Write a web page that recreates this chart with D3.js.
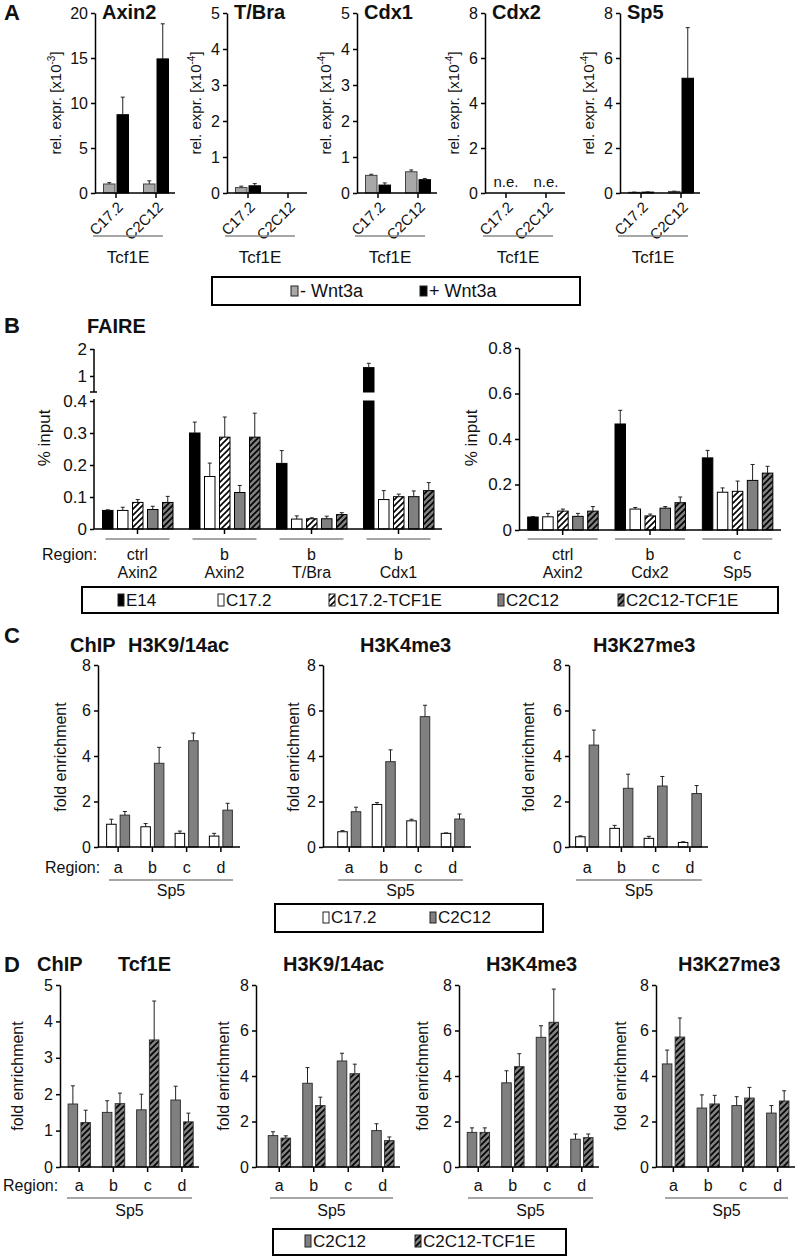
<!DOCTYPE html>
<html>
<head>
<meta charset="utf-8">
<script src="https://cdn.jsdelivr.net/npm/d3@7"></script>
<style>
  body { margin: 0; background: #fff; }
  svg text { font-family: Arial, "Liberation Sans", sans-serif; fill: #111; }
</style>
</head>
<body>
<div id="chart"></div>
<script>
// ---------- data: panel A (relative expression) ----------
const exprGenes = ['Axin2', 'T/Bra', 'Cdx1', 'Cdx2', 'Sp5'];
const exprCells = ['C17.2', 'C2C12'];
const exprExponent = ['-3', '-4', '-4', '-4', '-4'];
const exprTicks = [[0, 5, 10, 15, 20], [0, 1, 2, 3, 4, 5], [0, 1, 2, 3, 4, 5], [0, 2, 4, 6, 8], [0, 2, 4, 6, 8]];
const exprMinusWnt = [[1.0, 1.0], [0.15, null], [0.49, 0.59], [null, null], [0.03, 0.07]];
const exprMinusWntErr = [[0.15, 0.35], [0.04, 0], [0.03, 0.05], [0, 0], [0.01, 0.01]];
const exprPlusWnt = [[8.7, 14.9], [0.2, null], [0.22, 0.37], [null, null], [0.04, 5.1]];
const exprPlusWntErr = [[1.95, 3.9], [0.06, 0], [0.06, 0.03], [0, 0], [0.01, 2.25]];
const exprNotExpressed = [false, false, false, true, false];

// ---------- data: panel B (FAIRE, % input) ----------
const faireSeries = ['E14', 'C17.2', 'C17.2-TCF1E', 'C2C12', 'C2C12-TCF1E'];
const faireLeftRegion = ['ctrl', 'b', 'b', 'b'];
const faireLeftGene = ['Axin2', 'Axin2', 'T/Bra', 'Cdx1'];
// rows = series, columns = regions
const faireLeftVals = [
  [0.058, 0.30, 0.205, 1.31],
  [0.058, 0.164, 0.031, 0.092],
  [0.083, 0.287, 0.032, 0.101],
  [0.061, 0.114, 0.032, 0.101],
  [0.083, 0.287, 0.045, 0.12]
];
const faireLeftErr = [
  [0.002, 0.034, 0.04, 0.16],
  [0.01, 0.042, 0.01, 0.028],
  [0.009, 0.063, 0.003, 0.008],
  [0.01, 0.022, 0.008, 0.018],
  [0.019, 0.075, 0.006, 0.025]
];
const faireRightRegion = ['ctrl', 'b', 'c'];
const faireRightGene = ['Axin2', 'Cdx2', 'Sp5'];
const faireRightVals = [
  [0.057, 0.466, 0.317],
  [0.058, 0.092, 0.166],
  [0.083, 0.062, 0.17],
  [0.06, 0.096, 0.218],
  [0.083, 0.12, 0.25]
];
const faireRightErr = [
  [0.002, 0.06, 0.033],
  [0.015, 0.007, 0.019],
  [0.009, 0.008, 0.045],
  [0.013, 0.007, 0.07],
  [0.02, 0.025, 0.03]
];
const faireLeftTicks = [0, 0.1, 0.2, 0.3, 0.4];
const faireLeftUpperTicks = [1, 2];
const faireRightTicks = [0, 0.2, 0.4, 0.6, 0.8];

// ---------- data: panel C (ChIP, C17.2 vs C2C12) ----------
const chipRegions = ['a', 'b', 'c', 'd'];
const chipCMarks = ['H3K9/14ac', 'H3K4me3', 'H3K27me3'];
const chipCC172 = [[1.0, 0.89, 0.6, 0.48], [0.67, 1.87, 1.15, 0.6], [0.45, 0.82, 0.38, 0.2]];
const chipCC172Err = [[0.22, 0.14, 0.1, 0.12], [0.05, 0.08, 0.07, 0.02], [0.04, 0.13, 0.09, 0.03]];
const chipCC2C12 = [[1.4, 3.68, 4.67, 1.62], [1.55, 3.75, 5.73, 1.23], [4.48, 2.58, 2.68, 2.35]];
const chipCC2C12Err = [[0.16, 0.7, 0.34, 0.3], [0.2, 0.52, 0.5, 0.22], [0.66, 0.62, 0.42, 0.35]];
const chipCTicks = [0, 2, 4, 6, 8];

// ---------- data: panel D (ChIP, C2C12 vs C2C12-TCF1E) ----------
const chipDMarks = ['Tcf1E', 'H3K9/14ac', 'H3K4me3', 'H3K27me3'];
const chipDTicks = [[0, 1, 2, 3, 4, 5], [0, 2, 4, 6, 8], [0, 2, 4, 6, 8], [0, 2, 4, 6, 8]];
const chipDC2C12 = [[1.73, 1.5, 1.57, 1.84], [1.38, 3.68, 4.66, 1.6], [1.52, 3.7, 5.7, 1.22], [4.53, 2.59, 2.7, 2.37]];
const chipDC2C12Err = [[0.5, 0.32, 0.43, 0.38], [0.17, 0.69, 0.34, 0.3], [0.2, 0.53, 0.51, 0.23], [0.61, 0.58, 0.39, 0.33]];
const chipDTcf = [[1.22, 1.74, 3.49, 1.24], [1.27, 2.7, 4.1, 1.16], [1.52, 4.41, 6.36, 1.29], [5.71, 2.77, 3.03, 2.9]];
const chipDTcfErr = [[0.34, 0.29, 1.07, 0.24], [0.1, 0.37, 0.42, 0.16], [0.2, 0.57, 1.46, 0.16], [0.84, 0.38, 0.47, 0.45]];

// ---------- setup ----------
const W = 800, H = 1259;
const svg = d3.select('#chart').append('svg').attr('width', W).attr('height', H);
const defs = svg.append('defs');

function hatch(id, bg) {
  const p = defs.append('pattern')
    .attr('id', id)
    .attr('patternUnits', 'userSpaceOnUse')
    .attr('width', 6)
    .attr('height', 6);
  p.append('rect').attr('width', 6).attr('height', 6).attr('fill', bg);
  p.append('path')
    .attr('d', 'M-1,1 l2,-2 M0,6 l6,-6 M5,7 l2,-2')
    .attr('stroke', '#000')
    .attr('stroke-width', 1.6);
}
hatch('hatchWhite', '#fff');
hatch('hatchGray', '#808080');

const GRAY = '#808080';
const LIGHT = '#a8a8a8';
const faireFills = ['#000', '#fff', 'url(#hatchWhite)', GRAY, 'url(#hatchGray)'];
const fmt = d3.format('~g');

function text(x, y, str, size, opts = {}) {
  return svg.append('text')
    .attr('x', x)
    .attr('y', y)
    .attr('font-size', size)
    .attr('font-weight', opts.bold ? 'bold' : null)
    .attr('text-anchor', opts.anchor || 'start')
    .text(str);
}

function hline(x1, x2, y, color = '#000', w = 1.5) {
  svg.append('line')
    .attr('x1', x1).attr('x2', x2).attr('y1', y).attr('y2', y)
    .attr('stroke', color).attr('stroke-width', w);
}

function vlabel(x, y, str, size) {
  return svg.append('text')
    .attr('transform', `translate(${x},${y}) rotate(-90)`)
    .attr('text-anchor', 'middle')
    .attr('font-size', size)
    .text(str);
}

function styleAxis(sel, size = 15) {
  sel.attr('font-size', null).attr('font-family', null);
  sel.select('.domain').attr('stroke', '#000').attr('stroke-width', 1.5);
  sel.selectAll('.tick line').attr('stroke', '#000').attr('stroke-width', 1.5);
  sel.selectAll('.tick text').attr('font-size', size).attr('fill', '#111');
}

// generic grouped bar chart with upward error bars
function drawBarChart(cfg) {
  const g = svg.append('g');
  const x = d3.scaleBand().domain(cfg.cats).range(cfg.band);
  const y = d3.scaleLinear().domain([0, d3.max(cfg.ticks)]).range([cfg.yBottom, cfg.yTop]);

  cfg.series.forEach(s => {
    const rows = cfg.cats.map((c, i) => ({ c, v: s.values[i], e: s.errs[i] }))
      .filter(d => d.v != null);
    const cx = d => x(d.c) + x.bandwidth() / 2 + s.offset;

    g.selectAll(null).data(rows).enter().append('rect')
      .attr('x', cx)
      .attr('y', d => y(d.v))
      .attr('width', s.width)
      .attr('height', d => y(0) - y(d.v))
      .attr('fill', s.fill)
      .attr('stroke', s.stroke || '#000')
      .attr('stroke-width', 1);

    const err = rows.filter(d => d.e > 0);
    g.selectAll(null).data(err).enter().append('path')
      .attr('d', d => {
        const mx = cx(d) + s.width / 2;
        const top = y(d.v + d.e);
        return `M${mx},${y(d.v)}V${top}M${mx - 2},${top}H${mx + 2}`;
      })
      .attr('fill', 'none')
      .attr('stroke', '#222')
      .attr('stroke-width', 1);
  });

  // y axis
  g.append('g')
    .attr('transform', `translate(${cfg.x0},0)`)
    .call(d3.axisLeft(y).tickValues(cfg.ticks).tickSize(4).tickSizeOuter(0).tickPadding(3).tickFormat(fmt))
    .call(s => styleAxis(s, cfg.tickSize || 15));

  // x axis: baseline + group ticks
  g.append('line')
    .attr('x1', cfg.x0).attr('x2', cfg.xEnd)
    .attr('y1', y(0)).attr('y2', y(0))
    .attr('stroke', '#000').attr('stroke-width', 1.5);
  g.append('g')
    .attr('transform', `translate(0,${y(0)})`)
    .call(d3.axisBottom(x).tickSize(5).tickSizeOuter(0).tickFormat(''))
    .call(s => { s.select('.domain').remove(); styleAxis(s); });

  return { x, y };
}

function legendBox(x1, x2, y1, y2, items, size) {
  svg.append('rect')
    .attr('x', x1).attr('y', y1)
    .attr('width', x2 - x1).attr('height', y2 - y1)
    .attr('fill', '#fff').attr('stroke', '#000').attr('stroke-width', 2);
  items.forEach(it => {
    svg.append('rect')
      .attr('x', it.x).attr('y', it.sy)
      .attr('width', it.sw).attr('height', it.sh)
      .attr('fill', it.fill).attr('stroke', '#222').attr('stroke-width', 1);
    text(it.x + it.sw + 2, it.ty, it.label, size);
  });
}

// ---------- panel A ----------
text(4, 20, 'A', 22, { bold: true });
const aX0 = [95, 227, 357, 485, 620];
exprGenes.forEach((gene, i) => {
  const x0 = aX0[i];
  const { x } = drawBarChart({
    x0, xEnd: x0 + 80, band: [x0 + 1, x0 + 81],
    yTop: 13, yBottom: 193, tickSize: 16,
    ticks: exprTicks[i], cats: exprCells,
    series: [
      { values: exprMinusWnt[i], errs: exprMinusWntErr[i], fill: LIGHT, stroke: '#444', offset: -12.5, width: 11.5 },
      { values: exprPlusWnt[i], errs: exprPlusWntErr[i], fill: '#000', offset: 1, width: 11.5 }
    ]
  });
  text(x0 + 7, 19, gene, 20, { bold: true });

  const digits = String(d3.max(exprTicks[i])).length;
  const lab = svg.append('text')
    .attr('transform', `translate(${x0 - 18 - 8 * digits},103) rotate(-90)`)
    .attr('text-anchor', 'middle')
    .attr('font-size', 15);
  lab.append('tspan').text('rel. expr. [x10');
  lab.append('tspan').attr('font-size', 10).attr('dy', -6).text(exprExponent[i]);
  lab.append('tspan').attr('dy', 6).text(']');

  exprCells.forEach(c => {
    const cx = x(c) + x.bandwidth() / 2;
    svg.append('text')
      .attr('transform', `translate(${cx + 8},${208}) rotate(-45)`)
      .attr('text-anchor', 'end')
      .attr('font-size', 15)
      .text(c);
    if (exprNotExpressed[i]) text(cx, 187, 'n.e.', 15, { anchor: 'middle' });
  });
  hline(x0 - 2, x0 + 68, 236, '#888', 1.5);
  text(x0 + 33, 263, 'Tcf1E', 17, { anchor: 'middle' });
});
legendBox(212, 580, 277, 305, [
  { x: 291, sy: 286, sw: 7, sh: 10, ty: 297, fill: LIGHT, label: '- Wnt3a' },
  { x: 420, sy: 286, sw: 7, sh: 10, ty: 297, fill: '#000', label: '+ Wnt3a' }
], 18);

// ---------- panel B ----------
text(4, 333, 'B', 22, { bold: true });
text(87, 333, 'FAIRE', 20, { bold: true });

const faireOffsets = [-35, -20, -5, 10, 25];
const bw = 10.5;

// left chart with broken y axis
(function () {
  const x0 = 94, xEnd = 442;
  const cats = faireLeftGene.map((g, i) => i);
  const x = d3.scaleBand().domain(cats).range([94, 442]);
  const yLow = d3.scaleLinear().domain([0, 0.4]).range([529, 401]);
  const yUp = d3.scaleLinear().domain([1, 2]).range([376, 349]);
  const breakY = 392;
  const g = svg.append('g');

  faireSeries.forEach((name, si) => {
    cats.forEach(ci => {
      const v = faireLeftVals[si][ci], e = faireLeftErr[si][ci];
      const bx = x(ci) + x.bandwidth() / 2 + faireOffsets[si] + 5 - bw / 2 + 0.25;
      const style = r => r.attr('fill', faireFills[si]).attr('stroke', '#000').attr('stroke-width', 1);
      let top;
      if (v <= 0.4) {
        g.append('rect').attr('x', bx).attr('y', yLow(v)).attr('width', bw)
          .attr('height', yLow(0) - yLow(v)).call(style);
        top = yLow(v + e);
      } else {
        g.append('rect').attr('x', bx).attr('y', yLow(0.4)).attr('width', bw)
          .attr('height', yLow(0) - yLow(0.4)).call(style);
        g.append('rect').attr('x', bx).attr('y', yUp(v)).attr('width', bw)
          .attr('height', breakY - yUp(v)).call(style);
        top = yUp(v + e);
      }
      const mx = bx + bw / 2;
      const vy = v <= 0.4 ? yLow(v) : yUp(v);
      g.append('path')
        .attr('d', `M${mx},${vy}V${top}M${mx - 2},${top}H${mx + 2}`)
        .attr('stroke', '#222').attr('fill', 'none').attr('stroke-width', 1);
    });
  });

  g.append('g').attr('transform', `translate(${x0},0)`)
    .call(d3.axisLeft(yLow).tickValues(faireLeftTicks).tickSize(4).tickSizeOuter(0).tickPadding(3).tickFormat(fmt))
    .call(s => { s.select('.domain').remove(); styleAxis(s, 17); });
  g.append('g').attr('transform', `translate(${x0},0)`)
    .call(d3.axisLeft(yUp).tickValues(faireLeftUpperTicks).tickSize(4).tickSizeOuter(0).tickPadding(3).tickFormat(fmt))
    .call(s => { s.select('.domain').remove(); styleAxis(s, 17); });
  // broken axis segments
  g.append('path')
    .attr('d', `M${x0},${yUp(2)}V${breakY}M${x0 - 4},${breakY}H${x0 + 3}M${x0},${breakY + 7}V${yLow(0)}`)
    .attr('stroke', '#000').attr('stroke-width', 1.5).attr('fill', 'none');
  g.append('line').attr('x1', x0).attr('x2', xEnd).attr('y1', yLow(0)).attr('y2', yLow(0))
    .attr('stroke', '#000').attr('stroke-width', 1.5);
  g.append('g').attr('transform', `translate(0,${yLow(0)})`)
    .call(d3.axisBottom(x).tickSize(5).tickSizeOuter(0).tickFormat(''))
    .call(s => { s.select('.domain').remove(); styleAxis(s); });

  vlabel(x0 - 44, 438, '% input', 17);
  cats.forEach(ci => {
    const cx = x(ci) + x.bandwidth() / 2;
    hline(cx - 32, cx + 32, 539, '#888', 1.5);
    text(cx, 560, faireLeftRegion[ci], 16, { anchor: 'middle' });
    text(cx, 578, faireLeftGene[ci], 16, { anchor: 'middle' });
  });
  text(42, 560, 'Region:', 16);
})();

// right chart
(function () {
  const x0 = 519;
  const cats = faireRightGene.map((g, i) => i);
  const { x } = drawBarChart({
    x0, xEnd: 781, band: [519, 781],
    yTop: 348, yBottom: 530, tickSize: 17,
    ticks: faireRightTicks, cats,
    series: faireSeries.map((name, si) => ({
      values: faireRightVals[si], errs: faireRightErr[si],
      fill: faireFills[si], offset: faireOffsets[si] + 5 - bw / 2 + 0.25, width: bw
    }))
  });
  vlabel(x0 - 42, 438, '% input', 17);
  cats.forEach(ci => {
    const cx = x(ci) + x.bandwidth() / 2;
    hline(cx - 35, cx + 35, 539, '#888', 1.5);
    text(cx, 560, faireRightRegion[ci], 16, { anchor: 'middle' });
    text(cx, 578, faireRightGene[ci], 16, { anchor: 'middle' });
  });
})();

legendBox(82, 778, 587, 613, faireSeries.map((name, si) => ({
  x: [118, 218, 329, 498, 618][si], sy: 594, sw: 6, sh: 12, ty: 606,
  fill: faireFills[si], label: name
})), 17);

// ---------- panel C ----------
text(4, 643, 'C', 22, { bold: true });
text(70, 652, 'ChIP', 20, { bold: true });
const cLayout = [
  { x0: 98, xEnd: 240, band: [101, 238], labelX: 66, titleX: 128, line: [109, 233] },
  { x0: 323, xEnd: 471, band: [332, 470], labelX: 299, titleX: 360, line: [338, 463] },
  { x0: 569, xEnd: 708, band: [570, 707], labelX: 534, titleX: 593, line: [576, 702] }
];
chipCMarks.forEach((mark, i) => {
  const L = cLayout[i];
  const { x } = drawBarChart({
    x0: L.x0, xEnd: L.xEnd, band: L.band,
    yTop: 665, yBottom: 847,
    ticks: chipCTicks, cats: chipRegions, tickSize: 16,
    series: [
      { values: chipCC172[i], errs: chipCC172Err[i], fill: '#fff', offset: -11.5, width: 9.5 },
      { values: chipCC2C12[i], errs: chipCC2C12Err[i], fill: GRAY, stroke: '#333', offset: 2, width: 9.5 }
    ]
  });
  text(L.titleX, 652, mark, 20, { bold: true });
  vlabel(L.labelX, 757, 'fold enrichment', 16);
  chipRegions.forEach(r => text(x(r) + x.bandwidth() / 2, 873, r, 16, { anchor: 'middle' }));
  hline(L.line[0], L.line[1], 880, '#888', 1.5);
  text((L.line[0] + L.line[1]) / 2, 896, 'Sp5', 16, { anchor: 'middle' });
});
text(45, 873, 'Region:', 16);
legendBox(275, 543, 904, 932, [
  { x: 323, sy: 912, sw: 6, sh: 11, ty: 923, fill: '#fff', label: 'C17.2' },
  { x: 430, sy: 912, sw: 6, sh: 11, ty: 923, fill: GRAY, label: 'C2C12' }
], 17);

// ---------- panel D ----------
text(4, 972, 'D', 22, { bold: true });
text(37, 971, 'ChIP', 20, { bold: true });
const dLayout = [
  { x0: 60, xEnd: 199, band: [62, 199], labelX: 23, titleX: 118, line: [67, 192] },
  { x0: 256, xEnd: 400, band: [262, 400], labelX: 229, titleX: 283, line: [270, 393] },
  { x0: 459, xEnd: 599, band: [461, 599], labelX: 428, titleX: 486, line: [468, 593] },
  { x0: 656, xEnd: 795, band: [656, 795], labelX: 626, titleX: 678, line: [665, 788] }
];
chipDMarks.forEach((mark, i) => {
  const L = dLayout[i];
  const { x } = drawBarChart({
    x0: L.x0, xEnd: L.xEnd, band: L.band,
    yTop: 985, yBottom: 1167,
    ticks: chipDTicks[i], cats: chipRegions, tickSize: 16,
    series: [
      { values: chipDC2C12[i], errs: chipDC2C12Err[i], fill: GRAY, stroke: '#333', offset: -11, width: 9.5 },
      { values: chipDTcf[i], errs: chipDTcfErr[i], fill: 'url(#hatchGray)', stroke: '#333', offset: 1.8, width: 9.5 }
    ]
  });
  text(L.titleX, 971, mark, 20, { bold: true });
  vlabel(L.labelX, 1076, 'fold enrichment', 16);
  chipRegions.forEach(r => text(x(r) + x.bandwidth() / 2, 1191, r, 16, { anchor: 'middle' }));
  hline(L.line[0], L.line[1], 1198, '#888', 1.5);
  text((L.line[0] + L.line[1]) / 2, 1216, 'Sp5', 16, { anchor: 'middle' });
});
text(3, 1191, 'Region:', 16);
legendBox(273, 566, 1229, 1255, [
  { x: 305, sy: 1235, sw: 6, sh: 12, ty: 1247, fill: GRAY, label: 'C2C12' },
  { x: 415, sy: 1235, sw: 6, sh: 12, ty: 1247, fill: 'url(#hatchGray)', label: 'C2C12-TCF1E' }
], 17);
</script>
</body>
</html>
